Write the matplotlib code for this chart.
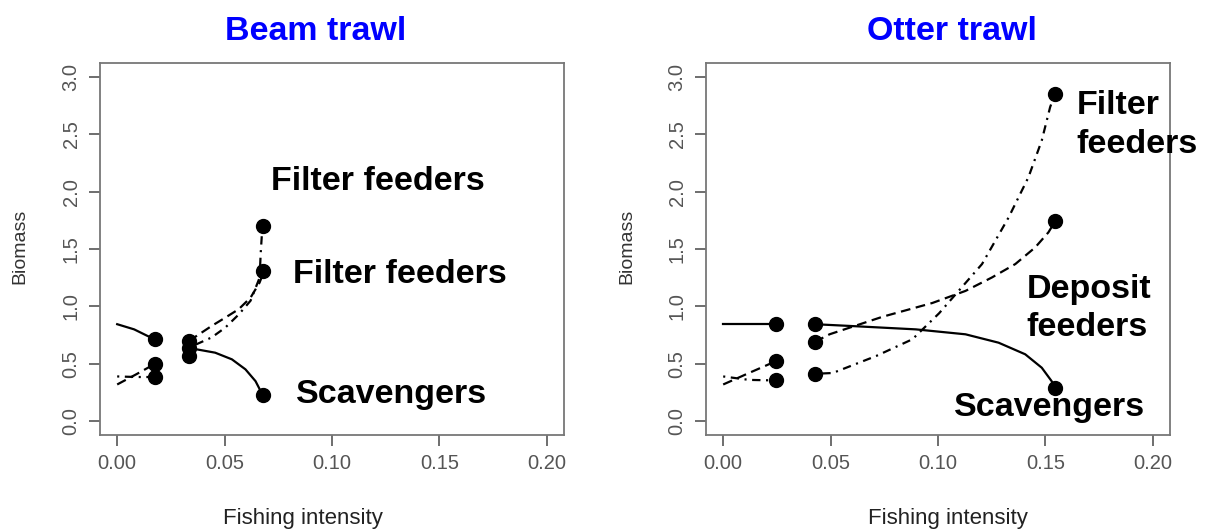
#biomass vs fishing intensity, beam and otter trawl
import matplotlib.pyplot as plt
import numpy as np

plt.rcParams['font.family'] = ['Liberation Sans', 'DejaVu Sans']
plt.rcParams['lines.scale_dashes'] = False

# ---- Beam trawl ----
beam_scav1_x = [0, 0.0079, 0.0142, 0.0176]
beam_scav1_y = [0.845, 0.80, 0.742, 0.716]
beam_dep1_x = [0, 0.009, 0.0176]
beam_dep1_y = [0.32, 0.41, 0.50]
beam_filt1_x = [0, 0.009, 0.0176]
beam_filt1_y = [0.39, 0.385, 0.385]
beam_scav2_x = [0.0333, 0.037, 0.0456, 0.0534, 0.0597, 0.0644, 0.0676]
beam_scav2_y = [0.64, 0.626, 0.597, 0.539, 0.452, 0.349, 0.233]
beam_dep2_x = [0.0333, 0.0369, 0.044, 0.0503, 0.0566, 0.0621, 0.0663, 0.0684]
beam_dep2_y = [0.70, 0.742, 0.830, 0.902, 0.976, 1.077, 1.208, 1.31]
beam_filt2_x = [0.0333, 0.044, 0.0503, 0.0566, 0.0621, 0.0663, 0.0668, 0.0676]
beam_filt2_y = [0.64, 0.73, 0.815, 0.93, 1.05, 1.25, 1.46, 1.70]
beam_pts_x = [0.0176, 0.0176, 0.0176, 0.0333, 0.0333, 0.0333, 0.068, 0.068, 0.068]
beam_pts_y = [0.716, 0.50, 0.385, 0.70, 0.64, 0.57, 1.70, 1.31, 0.23]

# ---- Otter trawl ----
otter_scav1_x = [0, 0.0247]
otter_scav1_y = [0.845, 0.845]
otter_dep1_x = [0, 0.012, 0.0247]
otter_dep1_y = [0.32, 0.42, 0.524]
otter_filt1_x = [0, 0.012, 0.0247]
otter_filt1_y = [0.39, 0.36, 0.355]
otter_scav2_x = [0.0426, 0.0588, 0.0897, 0.1128, 0.1282, 0.1406, 0.1483, 0.1529, 0.1545]
otter_scav2_y = [0.845, 0.83, 0.80, 0.757, 0.684, 0.583, 0.466, 0.349, 0.286]
otter_dep2_x = [0.0426, 0.0495, 0.0742, 0.0974, 0.1128, 0.1251, 0.136, 0.1452, 0.1514, 0.1545]
otter_dep2_y = [0.69, 0.757, 0.91, 1.03, 1.135, 1.252, 1.369, 1.513, 1.645, 1.74]
otter_filt2_x = [0.0426, 0.051, 0.0712, 0.0881, 0.1005, 0.1205, 0.1329, 0.1421, 0.1483, 0.1522, 0.1545]
otter_filt2_y = [0.413, 0.42, 0.568, 0.714, 0.94, 1.369, 1.776, 2.125, 2.445, 2.736, 2.853]
otter_pts_x = [0.0247, 0.0247, 0.0247, 0.0426, 0.0426, 0.0426, 0.1545, 0.1545, 0.1545]
otter_pts_y = [0.845, 0.524, 0.355, 0.845, 0.69, 0.413, 2.853, 1.74, 0.286]

xticks = [0.00, 0.05, 0.10, 0.15, 0.20]
yticks = [0.0, 0.5, 1.0, 1.5, 2.0, 2.5, 3.0]

W, H = 1212, 531
fig = plt.figure(figsize=(W/100, H/100), dpi=100)

def setup(ax):
    ax.set_xlim(-0.008, 0.208)
    ax.set_ylim(-0.12, 3.12)
    ax.set_xticks(xticks)
    ax.set_xticklabels(['%.2f' % v for v in xticks])
    ax.set_yticks(yticks)
    ax.set_yticklabels(['%.1f' % v for v in yticks], rotation=90, va='center')
    ax.tick_params(direction='out', length=8, width=1.2, color='#555555',
                   labelcolor='#555555', labelsize=14.5, pad=6)
    for s in ax.spines.values():
        s.set_color('#777777')
        s.set_linewidth(1.3)

def draw(ax, segs, px, py):
    dashes = [(None, None), (7, 4), (1.5, 4, 6, 4)]
    for i, (sx, sy) in enumerate(segs):
        ln, = ax.plot(sx, sy, color='black', lw=1.6)
        d = dashes[i % 3]
        if d[0] is not None:
            ln.set_dashes(d)
    ax.plot(px, py, 'o', color='black', ms=10, ls='none')

ax1 = fig.add_axes([100/W, 1-435/H, 464/W, 372/H])
setup(ax1)
draw(ax1, [(beam_scav1_x, beam_scav1_y), (beam_dep1_x, beam_dep1_y), (beam_filt1_x, beam_filt1_y),
           (beam_scav2_x, beam_scav2_y), (beam_dep2_x, beam_dep2_y), (beam_filt2_x, beam_filt2_y)],
     beam_pts_x, beam_pts_y)
lab = dict(fontsize=24.5, fontweight='bold', color='black', va='baseline', ha='left')
ax1.text(0.0714, 2.01, 'Filter feeders', **lab)
ax1.text(0.0817, 1.205, 'Filter feeders', **lab)
ax1.text(0.0832, 0.157, 'Scavengers', **lab)

ax2 = fig.add_axes([706/W, 1-435/H, 464/W, 372/H])
setup(ax2)
draw(ax2, [(otter_scav1_x, otter_scav1_y), (otter_dep1_x, otter_dep1_y), (otter_filt1_x, otter_filt1_y),
           (otter_scav2_x, otter_scav2_y), (otter_dep2_x, otter_dep2_y), (otter_filt2_x, otter_filt2_y)],
     otter_pts_x, otter_pts_y)
ax2.text(0.1644, 2.68, 'Filter', **lab)
ax2.text(0.1644, 2.34, 'feeders', **lab)
ax2.text(0.1412, 1.074, 'Deposit', **lab)
ax2.text(0.1412, 0.742, 'feeders', **lab)
ax2.text(0.1074, 0.044, 'Scavengers', **lab)

# titles and axis labels
fig.text(316/W, 1-40/H, 'Beam trawl', color='#0000ff', fontsize=24.5, fontweight='bold',
         ha='center', va='baseline')
fig.text(952/W, 1-40/H, 'Otter trawl', color='#0000ff', fontsize=24.5, fontweight='bold',
         ha='center', va='baseline')
for cx in (303, 948):
    fig.text(cx/W, 1-524/H, 'Fishing intensity', color='#222222', fontsize=16,
             ha='center', va='baseline')
for cx in (20, 627):
    fig.text(cx/W, 1-246/H, 'Biomass', color='#333333', fontsize=14,
             rotation=90, ha='center', va='center')

fig.savefig('out.png', dpi=100)
